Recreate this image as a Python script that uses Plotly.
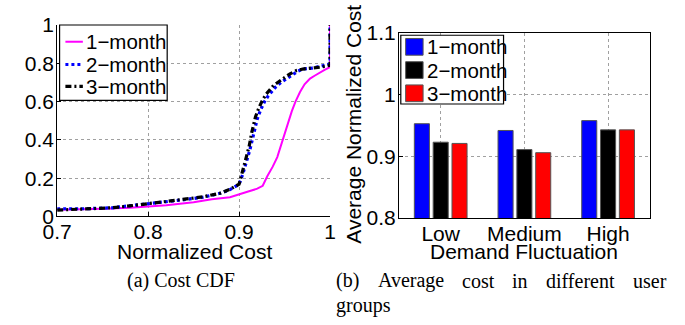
import plotly.graph_objects as go

W, H = 685, 325

# ---------------- data ----------------
series_names = ["1\u2212month", "2\u2212month", "3\u2212month"]

cdf1_x = [0.70, 0.72, 0.75, 0.78, 0.80, 0.82, 0.85, 0.87, 0.89, 0.90, 0.91, 0.92, 0.926,
          0.931, 0.937, 0.942, 0.946, 0.949, 0.953, 0.958, 0.962, 0.967, 0.972, 0.978,
          0.983, 0.988, 0.994, 1.0, 1.0]
cdf1_y = [0.035, 0.036, 0.040, 0.045, 0.050, 0.058, 0.074, 0.090, 0.100, 0.113, 0.130, 0.145,
          0.160, 0.210, 0.260, 0.310, 0.370, 0.420, 0.480, 0.550, 0.600, 0.650, 0.690, 0.720,
          0.735, 0.750, 0.765, 0.780, 1.0]

cdf2_x = [0.70, 0.73, 0.76, 0.78, 0.80, 0.82, 0.84, 0.86, 0.88, 0.89, 0.90, 0.904, 0.908,
          0.912, 0.916, 0.920, 0.924, 0.928, 0.932, 0.936, 0.940, 0.946, 0.952, 0.958,
          0.965, 0.970, 0.980, 0.990, 1.0, 1.0]
cdf2_y = [0.040, 0.040, 0.045, 0.055, 0.065, 0.075, 0.088, 0.100, 0.122, 0.140, 0.168, 0.220,
          0.280, 0.350, 0.430, 0.510, 0.560, 0.600, 0.630, 0.655, 0.675, 0.700, 0.720, 0.740,
          0.760, 0.770, 0.775, 0.785, 0.797, 1.0]

cdf3_x = [0.70, 0.73, 0.76, 0.78, 0.80, 0.82, 0.84, 0.86, 0.88, 0.89, 0.90, 0.903, 0.907,
          0.911, 0.914, 0.918, 0.922, 0.926, 0.930, 0.934, 0.938, 0.944, 0.950, 0.956,
          0.963, 0.970, 0.980, 0.990, 1.0, 1.0]
cdf3_y = [0.033, 0.037, 0.045, 0.055, 0.066, 0.077, 0.090, 0.102, 0.122, 0.142, 0.168, 0.225,
          0.295, 0.365, 0.440, 0.520, 0.570, 0.610, 0.640, 0.665, 0.685, 0.705, 0.725, 0.745,
          0.762, 0.770, 0.775, 0.780, 0.790, 1.0]

groups = ["Low", "Medium", "High"]
group_pos = [1, 2, 3]
avg_1m = [0.953, 0.942, 0.958]
avg_2m = [0.923, 0.911, 0.943]
avg_3m = [0.921, 0.906, 0.943]

cdf_xticks = [0.7, 0.8, 0.9, 1.0]
cdf_xticklabels = ["0.7", "0.8", "0.9", "1"]
cdf_yticks = [0, 0.2, 0.4, 0.6, 0.8, 1.0]
cdf_yticklabels = ["0", "0.2", "0.4", "0.6", "0.8", "1"]
bar_yticks = [0.8, 0.9, 1.0, 1.1]
bar_yticklabels = ["0.8", "0.9", "1", "1.1"]

caption_a = "(a) Cost CDF"
caption_b_line1 = ["(b)", "Average", "cost", "in", "different", "user"]
caption_b_line2 = "groups"

# ---------------- style ----------------
SANS = "Liberation Sans, Arial, sans-serif"
SERIF = "Liberation Serif, Times New Roman, serif"
FS = 21
LFS = 20.5
cdf_colors = ["#ff00ff", "#0000ff", "#000000"]
cdf_widths = [2, 3.2, 3.2]
cdf_dashes = ["solid", "3px,3px", "6px,3px,2px,3px"]
bar_colors = ["#0000ff", "#000000", "#ff0000"]
bar_edge = "#555555"

fig = go.Figure()

for xs, ys, name, col, wd, ds in zip([cdf1_x, cdf2_x, cdf3_x], [cdf1_y, cdf2_y, cdf3_y],
                                      series_names, cdf_colors, cdf_widths, cdf_dashes):
    fig.add_trace(go.Scatter(x=xs, y=ys, mode="lines", name=name,
                             line=dict(color=col, width=wd, dash=ds), xaxis="x", yaxis="y",
                             showlegend=False))

for vals, name, col in zip([avg_1m, avg_2m, avg_3m], series_names, bar_colors):
    fig.add_trace(go.Bar(x=group_pos, y=vals, name=name,
                         marker=dict(color=col, line=dict(color=bar_edge, width=1)),
                         xaxis="x2", yaxis="y2", showlegend=False))


def px(x):
    return x / W


def py(y):
    return (H - y) / H


grid = dict(showgrid=True, gridcolor="#a0a0a0", griddash="dot", gridwidth=1, zeroline=False)
axfont = dict(family=SANS, size=FS, color="black")
common = dict(showline=True, linecolor="black", linewidth=1, ticks="inside", ticklen=4,
              tickcolor="black", tickfont=axfont)

fig.update_layout(
    width=W, height=H, margin=dict(l=0, r=0, t=0, b=0),
    paper_bgcolor="white", plot_bgcolor="white", showlegend=False,
    barmode="group", bargap=0.325, bargroupgap=0.2,
    xaxis=dict(domain=[px(43.5), px(325)], range=[0.7, 1.0], tickvals=cdf_xticks,
               ticktext=cdf_xticklabels, anchor="y", ticklabelstandoff=-4, **common, **grid),
    yaxis=dict(domain=[py(220), py(14)], range=[0, 1.0], tickvals=cdf_yticks,
               ticktext=cdf_yticklabels, anchor="x", ticklabelstandoff=-2, **common, **grid),
    xaxis2=dict(domain=[px(396), px(655)], range=[0.5, 3.5], tickvals=group_pos,
                ticktext=groups, mirror=True, anchor="y2", ticklabelstandoff=-3, **common, **grid),
    yaxis2=dict(domain=[py(221.7), py(22.7)], range=[0.8, 1.1], tickvals=bar_yticks,
                ticktext=bar_yticklabels, mirror=True, anchor="x2", ticklabelstandoff=-2,
                **common, **grid),
)

shapes = []
annots = []

# ---- legend (a): box + line samples ----
shapes.append(dict(type="rect", xref="paper", yref="paper", x0=px(46), x1=px(157),
                   y0=py(95), y1=py(14), line=dict(color="black", width=1.2), fillcolor="white"))
leg_a_rows = [32, 56.5, 80]
for name, col, wd, ds, ry in zip(series_names, cdf_colors, cdf_widths, cdf_dashes, leg_a_rows):
    shapes.append(dict(type="line", xref="paper", yref="paper", x0=px(52), x1=px(70),
                       y0=py(ry), y1=py(ry), line=dict(color=col, width=wd, dash=ds)))
    annots.append(dict(text=name, x=px(71), y=py(ry), xanchor="left",
                       font=dict(family=SANS, size=LFS, color="black")))

# ---- legend (b): box + colored squares ----
shapes.append(dict(type="rect", xref="paper", yref="paper", x0=px(398), x1=px(504),
                   y0=py(99), y1=py(25), line=dict(color="black", width=1.2), fillcolor="white"))
leg_b_rows = [37.5, 62.5, 87.5]
for name, col, ry in zip(series_names, bar_colors, leg_b_rows):
    shapes.append(dict(type="rect", xref="paper", yref="paper", x0=px(403), x1=px(421),
                       y0=py(ry + 9), y1=py(ry - 9), line=dict(color=bar_edge, width=1),
                       fillcolor=col))
    annots.append(dict(text=name, x=px(423), y=py(ry), xanchor="left",
                       font=dict(family=SANS, size=LFS, color="black")))

annots += [
    dict(text="Normalized Cost", x=px(185), y=py(258), font=dict(family=SANS, size=FS, color="black")),
    dict(text="Demand Fluctuation", x=px(525), y=py(258), font=dict(family=SANS, size=FS, color="black")),
    dict(text="Average Normalized Cost", x=px(349), y=py(121), textangle=-90,
         font=dict(family=SANS, size=FS, color="black")),
    dict(text=caption_a, x=px(171), y=py(289), font=dict(family=SERIF, size=20, color="black")),
    dict(text=caption_b_line2, x=px(329), y=py(316), xanchor="left",
         font=dict(family=SERIF, size=20, color="black")),
]
word_x = [329, 372, 459, 511, 546, 635]
for wx, wd in zip(word_x, caption_b_line1):
    annots.append(dict(text=wd, x=px(wx), y=py(289), xanchor="left",
                       font=dict(family=SERIF, size=20, color="black")))
for a in annots:
    a.setdefault("xanchor", "center")
    a.update(xref="paper", yref="paper", yanchor="middle", showarrow=False)

fig.update_layout(shapes=shapes, annotations=annots)

fig.write_html("out.html")
